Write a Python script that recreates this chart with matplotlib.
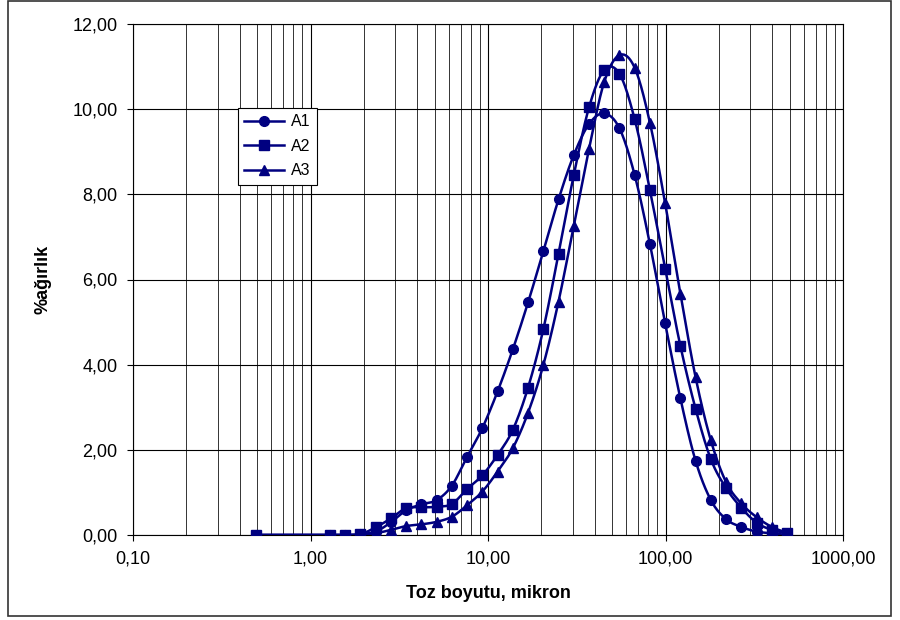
import numpy as np
import matplotlib
matplotlib.use("Agg")
import matplotlib.pyplot as plt
from matplotlib.lines import Line2D
from matplotlib.patches import Rectangle
from matplotlib.ticker import FuncFormatter, FixedLocator, NullFormatter

plt.rcParams['font.family'] = ['Liberation Sans', 'DejaVu Sans']

# particle size classes (micron)
size = [0.49, 1.29, 1.57, 1.91, 2.33, 2.84, 3.46, 4.22, 5.14, 6.26, 7.63,
        9.29, 11.32, 13.80, 16.81, 20.49, 24.96, 30.42, 37.07, 45.16, 55.04,
        67.07, 81.72, 99.54, 121.3, 147.8, 180.1, 219.5, 267.4, 325.8, 397.0,
        483.8]

a1 = [0, 0, 0, 0.02, 0.08, 0.30, 0.58, 0.72, 0.82, 1.16, 1.84, 2.51, 3.37,
      4.36, 5.46, 6.66, 7.88, 8.92, 9.65, 9.90, 9.55, 8.45, 6.83, 4.97, 3.21,
      1.74, 0.82, 0.37, 0.19, 0.08, 0.04, 0]
a2 = [0, 0, 0, 0.02, 0.18, 0.39, 0.63, 0.65, 0.66, 0.73, 1.08, 1.40, 1.88,
      2.47, 3.46, 4.83, 6.60, 8.45, 10.04, 10.92, 10.83, 9.76, 8.10, 6.25,
      4.44, 2.96, 1.78, 1.10, 0.64, 0.29, 0.12, 0.04]
a3 = [0, 0, 0, 0, 0.04, 0.12, 0.21, 0.25, 0.31, 0.43, 0.70, 1.02, 1.49,
      2.04, 2.87, 3.99, 5.48, 7.26, 9.06, 10.64, 11.27, 10.97, 9.68, 7.79,
      5.67, 3.70, 2.22, 1.24, 0.74, 0.42, 0.19, 0.05]

series = [("A1", a1, "o", 7), ("A2", a2, "s", 6.5), ("A3", a3, "^", 7.5)]
navy = "#000080"


def smooth(xs, ys, n=20):
    # Excel-like smoothed line: cubic bezier with Catmull-Rom tangents,
    # worked out in screen-like units (log x)
    u = np.log10(xs) * 177.5
    v = np.asarray(ys, float) * 42.58
    pts = np.column_stack([u, v])
    out = [pts[0]]
    t = np.linspace(0, 1, n)[1:, None]
    for i in range(len(pts) - 1):
        p0 = pts[max(i - 1, 0)]
        p1 = pts[i]
        p2 = pts[i + 1]
        p3 = pts[min(i + 2, len(pts) - 1)]
        c1 = p1 + (p2 - p0) / 6
        c2 = p2 - (p3 - p1) / 6
        seg = ((1 - t) ** 3) * p1 + 3 * ((1 - t) ** 2) * t * c1 \
            + 3 * (1 - t) * t ** 2 * c2 + t ** 3 * p2
        out.extend(seg)
    out = np.array(out)
    return 10 ** (out[:, 0] / 177.5), out[:, 1] / 42.58


fig = plt.figure(figsize=(9, 6.2), dpi=100)
ax = fig.add_axes([133 / 900, 85 / 620, 710 / 900, 511 / 620])

for name, ys, mk, ms in series:
    sx, sy = smooth(size, ys)
    ax.plot(sx, sy, color=navy, lw=1.8, zorder=3)
    ax.plot(size, ys, ls="none", marker=mk, ms=ms, color=navy, zorder=4)

ax.set_xscale("log")
ax.set_xlim(0.1, 1000)
ax.set_ylim(0, 12)
ax.set_yticks(np.arange(0, 12.1, 2))
ax.yaxis.set_major_formatter(FuncFormatter(lambda v, p: f"{v:.2f}".replace(".", ",")))
ax.xaxis.set_major_locator(FixedLocator([0.1, 1, 10, 100, 1000]))
ax.xaxis.set_major_formatter(FuncFormatter(lambda v, p: f"{v:.2f}".replace(".", ",")))
minor = [m * 10.0 ** d for d in range(-1, 3) for m in range(2, 10)]
ax.xaxis.set_minor_locator(FixedLocator(minor))
ax.xaxis.set_minor_formatter(NullFormatter())

ax.grid(True, which="major", axis="both", color="black", lw=0.8)
ax.grid(True, which="minor", axis="x", color="#333333", lw=0.7)
ax.set_axisbelow(True)
for s in ax.spines.values():
    s.set_color("black")
    s.set_linewidth(0.8)

ax.tick_params(axis="both", which="major", direction="out", length=4,
               labelsize=13, colors="black", pad=7)
ax.tick_params(axis="x", which="minor", length=0)

ax.set_xlabel("Toz boyutu, mikron", fontsize=13, fontweight="bold", labelpad=13)
ax.set_ylabel("%ağırlık", fontsize=13, fontweight="bold", labelpad=15)

handles = [Line2D([], [], color=navy, lw=1.8, marker=mk, ms=ms)
           for _, _, mk, ms in series]
leg = ax.legend(handles, [s[0] for s in series], loc="upper left",
                bbox_to_anchor=(0.148, 0.836), borderaxespad=0, fancybox=False,
                framealpha=1, edgecolor="black", fontsize=11.5, handlelength=2.5,
                handletextpad=0.4, borderpad=0.4, labelspacing=0.6)
leg.get_frame().set_linewidth(0.8)

fig.add_artist(Rectangle((8 / 900, 4 / 620), 883 / 900, 615 / 620,
                         transform=fig.transFigure, fill=False,
                         edgecolor="#333333", lw=1.2))

fig.savefig("out.png", dpi=100)
